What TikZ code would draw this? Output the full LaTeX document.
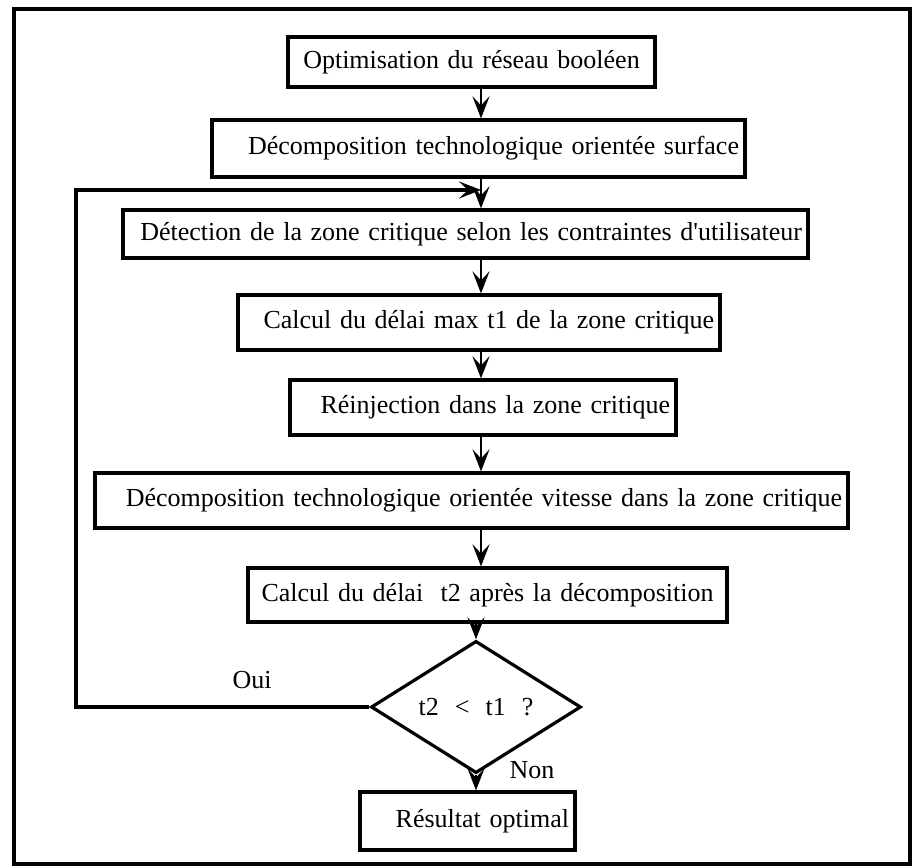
\documentclass[tikz,border=0pt]{standalone}
\usepackage{fontspec}
\setmainfont{Liberation Serif}
\usetikzlibrary{arrows.meta,shapes.geometric}
\usepackage{xcolor}
\definecolor{ink}{HTML}{000000}
\tikzset{
  >={Stealth[length=22pt,width=17pt,inset=9pt]},
  every node/.style={font=\fontsize{26}{30}\selectfont,text=ink},
  stepbox/.style={draw=ink,line width=3.2pt,minimum height=55pt,inner xsep=6pt,inner ysep=4pt,align=right},
  testbox/.style={draw=ink,line width=3.2pt,diamond,minimum width=210pt,minimum height=102pt,inner sep=0pt},
  arrow/.style={->,line width=2.4pt,draw=ink},
  loopline/.style={->,line width=3.2pt,draw=ink},
  frame/.style={draw=ink,line width=3.2pt},
  label/.style={inner sep=0pt},
}

\begin{document}
\begin{tikzpicture}[x=1pt,y=-1pt]
  \useasboundingbox (0,0) rectangle (913,867);
  \draw[frame] (14,9) rectangle (910,864);
  % steps
  \node[stepbox,text width=355pt,minimum height=50pt,align=center] (opt) at (471.5,62) {Optimisation du réseau booléen};
  \node[stepbox,text width=521pt,minimum height=57pt] (decsurf) at (478.5,148.5) {Décomposition technologique orientée surface};
  \node[stepbox,text width=673pt,minimum height=48pt] (detect) at (465.5,234) {Détection de la zone critique selon les contraintes d\textquotesingle utilisateur};
  \node[stepbox,text width=470pt] (delai1) at (479,322.5) {Calcul du délai max t1 de la zone critique};
  \node[stepbox,text width=374pt] (reinj) at (483,407.5) {Réinjection dans la zone critique};
  \node[stepbox,text width=741pt] (decvit) at (471.5,500.5) {Décomposition technologique orientée vitesse dans la zone critique};
  \node[stepbox,text width=467pt,minimum height=54pt,align=center] (delai2) at (487.5,595) {Calcul du délai\ \ t2 après la décomposition};
  \node[testbox] (test) at (476,707) {t2\hspace{16pt}<\hspace{16pt}t1\hspace{16pt}?};
  \node[stepbox,text width=203pt,minimum height=58pt] (result) at (467.5,821) {Résultat optimal};
  \node[label] (oui) at (252,680) {Oui};
  \node[label] (non) at (532,770) {Non};
  % connectors
  \coordinate (col) at (481,0);
  \coordinate (join) at (481,190);
  \coordinate (loopleft) at (76,707);
  \draw[arrow] (opt.south -| col) -- (decsurf.north -| col);
  \draw[arrow] (decsurf.south -| col) -- (detect.north -| col);
  \draw[arrow] (detect.south -| col) -- (delai1.north -| col);
  \draw[arrow] (delai1.south -| col) -- (reinj.north -| col);
  \draw[arrow] (reinj.south -| col) -- (decvit.north -| col);
  \draw[arrow] (decvit.south -| col) -- (delai2.north -| col);
  \draw[arrow] (delai2.south -| test.north) -- (test.north);
  \draw[arrow] (test.south) -- (result.north -| test.south);
  \draw[loopline] (test.west) -- (loopleft) |- (join);
\end{tikzpicture}
\end{document}
